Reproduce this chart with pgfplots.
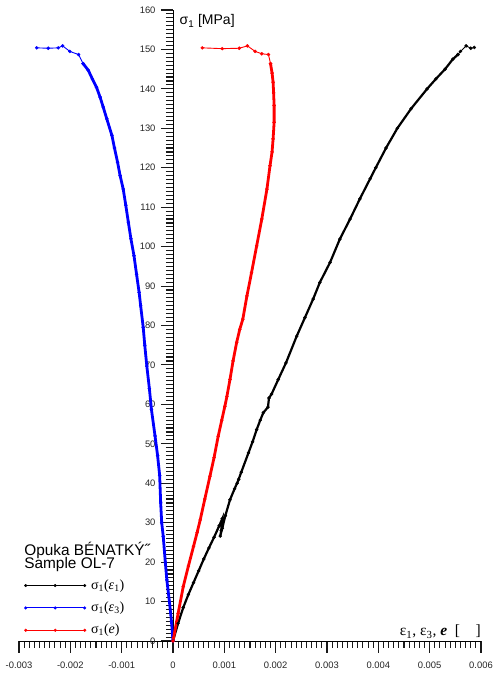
\documentclass[border=0pt]{standalone}
\usepackage{pgfplots}
\pgfplotsset{compat=1.18}
\usepackage{fontspec}
\setmainfont{Liberation Sans}
\newfontfamily\serif{Liberation Serif}

% stress (MPa) against axial strain: loading branch
\pgfplotstableread{
x y
0 0
0.0001 4.5
0.0002 8.5
0.0003 11.8
0.0004 14.8
0.0005 17.8
0.0006 20.8
0.0007 23.6
0.0008 26.3
0.0009 29.2
0.00096 31.0
0.00094 28.0
0.00092 26.6
0.00096 28.6
0.00102 31.8
0.00111 35.8
0.0012 38.6
0.00128 41.0
0.00125 40.0
0.00133 42.8
0.00147 47.7
0.00155 50.5
0.00163 53.6
0.0017 56.0
0.00176 57.9
0.00185 59.3
0.00187 61.6
0.00192 62.6
0.00205 66.3
0.0022 70.5
0.00241 77.3
0.00257 82.0
0.00273 86.7
0.00286 90.9
0.00306 96.0
0.00325 101.9
0.00345 107.0
0.00364 112.1
0.00384 117.2
0.00395 120.0
0.00415 125.0
0.00437 130.0
0.00464 135.0
0.00495 140.0
0.00512 142.5
0.0053 145.0
0.00545 147.5
0.00555 148.7
}\epsone
% axial strain near and past the peak
\pgfplotstableread{
x y
0.00555 148.7
0.0056 149.5
0.00571 150.9
0.0058 150.3
0.00587 150.5
}\epsonepeak

% stress against lateral strain: loading branch
\pgfplotstableread{
x y
0 0
-0.00003 5
-0.00007 10
-0.00012 15.5
-0.00015 20
-0.00019 26.5
-0.00022 30
-0.00024 35
-0.00026 42
-0.0003 47
-0.00035 52
-0.00042 58.7
-0.00046 64
-0.00051 69.7
-0.00055 75
-0.00058 79.5
-0.00063 85
-0.00066 88.4
-0.00071 93
-0.00076 97.7
-0.00082 102
-0.00087 106.2
-0.00092 110.5
-0.00097 114.6
-0.00103 118
-0.00108 121.4
-0.00114 125
-0.00119 128.2
-0.00129 132.4
-0.00136 135.4
-0.00142 137.9
-0.00149 140.4
-0.00157 142.5
-0.00165 144.7
-0.00175 146.4
}\epsthree
% lateral strain near and past the peak
\pgfplotstableread{
x y
-0.00175 146.4
-0.00184 148.7
-0.00201 149.5
-0.00215 150.9
-0.002235 150.4
-0.00243 150.3
-0.002655 150.4
}\epsthreepeak

% stress against volumetric strain: loading branch
\pgfplotstableread{
x y
0 0
0.0001 7
0.0002 13.8
0.0003 19
0.0004 24
0.00047 27.5
0.00053 30.7
0.00062 36
0.00072 41.8
0.0008 46.5
0.00088 51.9
0.00095 56
0.00101 59.5
0.00105 62
0.00111 66.3
0.00117 71
0.00124 75.7
0.0013 79
0.00136 81.6
0.00144 87.5
0.00153 93.4
0.00163 100.2
0.00173 107
0.00183 114.6
0.00189 120.5
0.00193 124
0.00195 127.3
0.00197 131.5
0.00197 135.8
0.00196 139
0.00195 141.7
0.00193 144
0.0019 146.4
}\epsvol
% volumetric strain near and past the peak
\pgfplotstableread{
x y
0.0019 146.4
0.00186 148.7
0.00173 148.9
0.0016 149.5
0.00145 150.9
0.00129 150.3
0.00096 150.2
0.00057 150.4
}\epsvolpeak

\begin{document}
\begin{tikzpicture}
\useasboundingbox (0,0) rectangle (493pt,674pt);
\begin{axis}[
  at={(19pt,33pt)}, anchor=south west,
  scale only axis, width=462pt, height=631pt,
  xmin=-0.003, xmax=0.006, ymin=0, ymax=160,
  axis x line=bottom, axis y line=center,
  axis line style={-, line width=0.9pt, black},
  tick align=outside,
  major tick length=12pt, minor tick length=7pt,
  every tick/.style={line width=1.1pt, black!90},
  hide obscured y ticks=false,
  xtick={-0.003,-0.002,-0.001,0,0.001,0.002,0.003,0.004,0.005,0.006},
  xticklabels={-0.003,-0.002,-0.001,0,0.001,0.002,0.003,0.004,0.005,0.006},
  minor x tick num=9,
  ytick={0,10,...,160},
  minor y tick num=9,
  scaled x ticks=false,
  /pgf/number format/assume math mode=true,
  tick label style={font=\fontsize{9.4}{11}\selectfont, black!85},
  xticklabel style={yshift=-5pt},
  yticklabel style={xshift=-2pt},
  clip=false,
  legend image code/.code={
    \draw[#1, line width=0.8pt, mark repeat=1, mark size=1.4pt]
      plot coordinates {(0pt,0pt) (29.5pt,0pt) (59pt,0pt)};
  },
  legend style={
    at={(axis cs:-0.0029,16.0)}, anchor=north west,
    draw=none, fill=none, inner sep=0pt,
    font=\serif\fontsize{14}{16}\selectfont,
    column sep=5pt, row sep=7.3pt,
    nodes={inner sep=0pt, text height=11pt, text depth=4pt},
  },
  legend cell align=left,
  curve/.style={line width=2.8pt, mark=*, mark size=1.6pt,
    mark options={line width=0.3pt}},
  tail/.style={line width=0.9pt, mark=*, mark size=1.6pt,
    mark options={line width=0.3pt}},
]
\addplot[black, curve, line width=2.2pt] table {\epsone};
\addlegendentry{σ\textsubscript{1}(\textit{ε}\textsubscript{1})}
\addplot[blue, curve] table {\epsthree};
\addlegendentry{σ\textsubscript{1}(\textit{ε}\textsubscript{3})}
\addplot[red, curve] table {\epsvol};
\addlegendentry{σ\textsubscript{1}(\textit{e})}
\addplot[black, tail, forget plot] table {\epsonepeak};
\addplot[blue, tail, forget plot] table {\epsthreepeak};
\addplot[red, tail, forget plot] table {\epsvolpeak};

\node[anchor=base west, font=\fontsize{14}{16}\selectfont]
  at (axis cs:0.00006,156.2) {σ\textsubscript{1} [MPa]};
\node[anchor=base east, font=\serif\fontsize{15.5}{16}\selectfont, inner sep=0pt]
  at (axis cs:0.006,1.3) {ε\textsubscript{1}, ε\textsubscript{3}, \textbf{\textit{e}}\ \ [\ \ \ \ ]};
\node[anchor=base west, font=\fontsize{15.4}{16}\selectfont, inner sep=0pt]
  at (axis cs:-0.0029,21.8) {Opuka BÉNATKÝ˝};
\node[anchor=base west, font=\fontsize{15.4}{16}\selectfont, inner sep=0pt]
  at (axis cs:-0.0029,18.26) {Sample OL-7};
\end{axis}
\end{tikzpicture}
\end{document}
